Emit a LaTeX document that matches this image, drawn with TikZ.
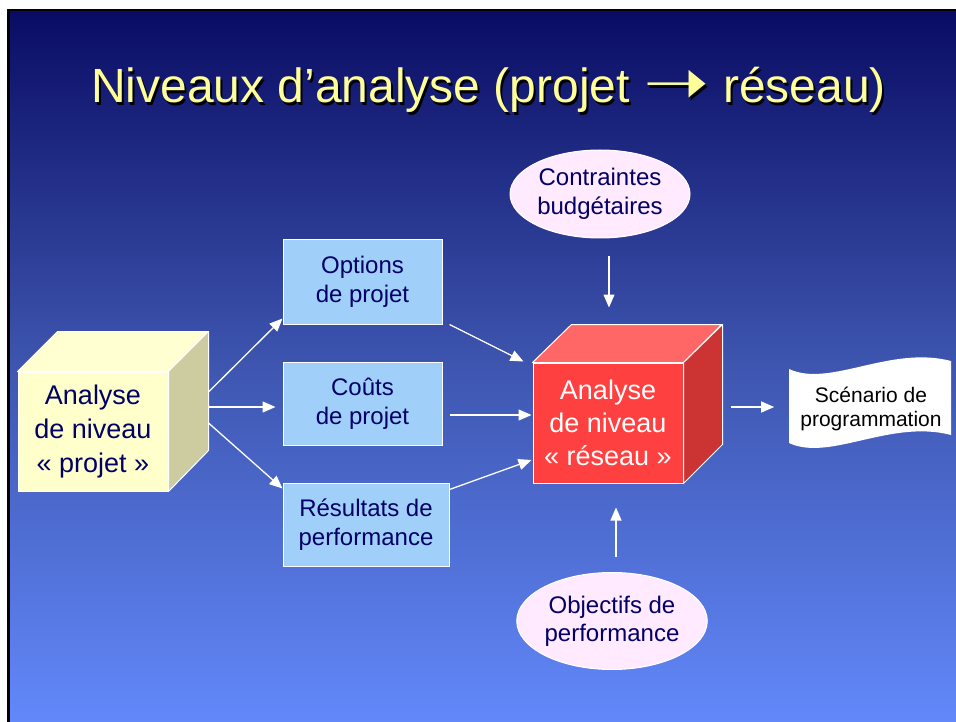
\documentclass[tikz,border=0pt]{standalone}
\usepackage{fontspec}
\setmainfont{Liberation Sans}
\newfontfamily\dejavu{DejaVu Sans}
\usetikzlibrary{arrows.meta,shapes.geometric}
\definecolor{bgtop}{RGB}{10,12,100}
\definecolor{bgmid}{RGB}{62,86,176}
\definecolor{bgbot}{RGB}{98,136,250}
\definecolor{navy}{RGB}{0,0,102}
\definecolor{titleyellow}{RGB}{255,255,153}
\definecolor{boxblue}{RGB}{160,208,250}
\definecolor{ovalpink}{RGB}{255,234,255}
\definecolor{yfront}{RGB}{255,255,204}
\definecolor{ytop}{RGB}{255,255,210}
\definecolor{yside}{RGB}{204,204,160}
\definecolor{rfront}{RGB}{255,64,64}
\definecolor{rtop}{RGB}{255,102,102}
\definecolor{rside}{RGB}{204,51,51}
\newcommand{\titlearrow}{\raisebox{-2pt}{\scalebox{1.65}[1.35]{\dejavu ➝}}}
\begin{document}
\begin{tikzpicture}[x=1pt,y=-1pt,
  arr/.style={draw=white,line width=1.3pt,-{Triangle[length=13pt,width=11pt]}},
  bluebox/.style={draw=white,line width=1pt,fill=boxblue,text=navy,
    font=\fontsize{24}{29}\selectfont,align=center,inner sep=0pt},
  oval/.style={ellipse,draw=white,line width=1pt,fill=ovalpink,text=navy,
    font=\fontsize{24}{29}\selectfont,align=center,inner sep=0pt},
  cubeface/.style={draw=white,line width=1pt,line join=round},
  titletext/.style={font=\fontsize{48}{58}\selectfont,anchor=base}]
\useasboundingbox (0,0) rectangle (956,722);
\fill[white] (0,0) rectangle (956,722);
\fill[black] (7,9) rectangle (956,722);
\shade[top color=bgtop,bottom color=bgbot,middle color=bgmid] (10,12) rectangle (956,722);

% title
\node[titletext,text=black] (titleshadow) at (490.5,105.5) {Niveaux d’analyse (projet \titlearrow\ réseau)};
\node[titletext,text=titleyellow] (title) at (488.5,103) {Niveaux d’analyse (projet \titlearrow\ réseau)};

% left cube
\node[cubeface,fill=yfront,minimum width=150pt,minimum height=119pt,inner sep=0pt,
  text=navy,font=\fontsize{27}{34}\selectfont,align=center] (cubeL) at (93,431.5)
  {Analyse\\de niveau\\«~projet~»};
\filldraw[cubeface,fill=ytop] (cubeL.north west) -- ++(40,-40) -- ++(150,0) -- (cubeL.north east) -- cycle;
\filldraw[cubeface,fill=yside] (cubeL.north east) -- ++(40,-40) -- ++(0,119) -- (cubeL.south east) -- cycle;

% red cube
\node[cubeface,fill=rfront,minimum width=150pt,minimum height=120pt,inner sep=0pt,
  text=white,font=\fontsize{27}{33}\selectfont,align=center] (cubeR) at (608,423)
  {Analyse\\de niveau\\«~réseau~»};
\filldraw[cubeface,fill=rtop] (cubeR.north west) -- ++(39,-38) -- ++(150,0) -- (cubeR.north east) -- cycle;
\filldraw[cubeface,fill=rside] (cubeR.north east) -- ++(39,-38) -- ++(0,120) -- (cubeR.south east) -- cycle;

% blue boxes
\node[bluebox,minimum width=159pt,minimum height=84pt] (opt) at (362.5,282) {Options\\de projet};
\node[bluebox,minimum width=159pt,minimum height=83pt] (cout) at (362.5,403.5) {Coûts\\de projet};
\node[bluebox,minimum width=166pt,minimum height=83pt] (res) at (366,524.5) {Résultats de\\performance};

% ovals
\node[oval,minimum width=180pt,minimum height=88pt] (contr) at (600,194) {Contraintes\\budgétaires};
\node[oval,minimum width=190pt,minimum height=97pt,font=\fontsize{24}{28}\selectfont] (obj) at (612,621) {Objectifs de\\performance};

% scenario document
\fill[white] (789,369) .. controls (830,388) and (890,345) .. (951,361)
  -- (951,435) .. controls (890,419) and (830,462) .. (789,443) -- cycle;
\node[text=black,font=\fontsize{21}{24}\selectfont,align=center,inner sep=0pt] (scen) at (871,409)
  {Scénario de\\programmation};

% connectors
\draw[arr] ([shift={(40,-39.5)}]cubeL.east) -- ([shift={(0,-6)}]opt.south west);
\draw[arr] ([shift={(40,-24.5)}]cubeL.east) -- ([shift={(-7,3.5)}]cout.west);
\draw[arr] ([shift={(40,-8.5)}]cubeL.east) -- ([shift={(0,6)}]res.north west);
\draw[arr] ([shift={(7,0)}]opt.south east) -- ([shift={(-9,-1)}]cubeR.north west);
\draw[arr] ([shift={(7,11.5)}]cout.east) -- ([shift={(-1,-8)}]cubeR.west);
\draw[arr] ([shift={(0,7)}]res.north east) -- ([shift={(-1,37)}]cubeR.west);
\draw[arr] ([shift={(9,18)}]contr.south) -- ([shift={(1,-55)}]cubeR.north);
\draw[arr] ([shift={(4,-15.5)}]obj.north) -- ([shift={(8,24)}]cubeR.south);
\draw[arr] ([shift={(47,-16)}]cubeR.east) -- ([shift={(-26,-2)}]scen.west);
\end{tikzpicture}
\end{document}
